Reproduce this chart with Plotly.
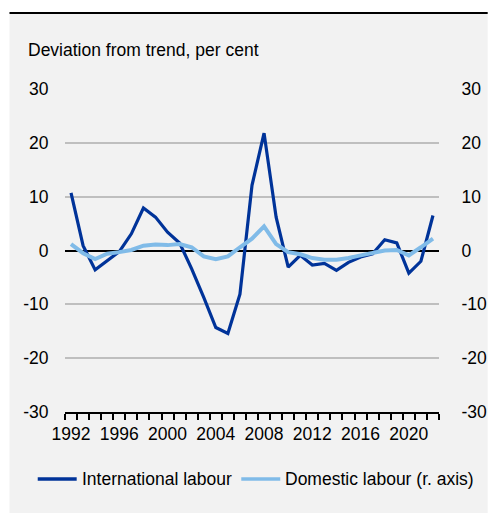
import plotly.graph_objects as go

years = list(range(1992, 2023))
international = [10.7, 0.9, -3.6, -1.9, -0.2, 3.1, 7.9, 6.2, 3.4, 1.4, -3.4, -8.7, -14.3, -15.4,
                 -8.1, 12.1, 21.8, 6.2, -3.1, -0.9, -2.7, -2.4, -3.7, -2.2, -1.2, -0.6, 2.0, 1.4,
                 -4.2, -2.0, 6.5]
domestic = [1.2, -0.5, -1.6, -0.6, -0.3, 0.1, 0.9, 1.1, 1.0, 1.2, 0.6, -1.1, -1.6, -1.1,
            0.6, 2.2, 4.5, 1.2, -0.3, -0.7, -1.4, -1.7, -1.7, -1.4, -0.9, -0.4, 0.0, 0.1,
            -0.9, 0.6, 2.2]
names = ["International labour", "Domestic labour (r. axis)"]
colors = ["#003399", "#80BBE8"]
y_ticks = [-30, -20, -10, 0, 10, 20, 30]
x_ticks = [1992, 1996, 2000, 2004, 2008, 2012, 2016, 2020]
title_text = "Deviation from trend, per cent"

FONT = "Liberation Sans, Arial, sans-serif"
FS = 17.5
W, H = 499, 515
L, R, T, B = 65, 50, 89, 103
pw, ph = W - L - R, H - T - B

def px(x):
    return (x - L) / pw

def py(y):
    return (H - B - y) / ph

fig = go.Figure()
fig.add_trace(go.Scatter(x=years, y=domestic, name=names[1], mode="lines",
                         line=dict(color=colors[1], width=4), yaxis="y2", showlegend=False))
fig.add_trace(go.Scatter(x=years, y=international, name=names[0], mode="lines",
                         line=dict(color=colors[0], width=3.2), showlegend=False))

shapes = [
    dict(type="rect", xref="paper", yref="paper", x0=px(8), x1=px(499), y0=py(513), y1=py(14),
         fillcolor="#F2F2F2", line=dict(width=0), layer="below"),
    dict(type="line", xref="paper", yref="paper", x0=px(8), x1=px(499), y0=py(13), y1=py(13),
         line=dict(color="black", width=2)),
]
annotations = [
    dict(text=title_text, xref="paper", yref="paper", x=px(25), y=py(50), xanchor="left",
         yanchor="middle", showarrow=False, font=dict(family=FONT, size=FS, color="black")),
]
# manual legend
leg_y = 479
leg_items = [(37, 77, 80), (246, 286, 289)]
for i, (x0, x1, tx) in enumerate(leg_items):
    shapes.append(dict(type="line", xref="paper", yref="paper", x0=px(x0), x1=px(x1),
                       y0=py(leg_y), y1=py(leg_y), line=dict(color=colors[i], width=3.5)))
    annotations.append(dict(text=names[i], xref="paper", yref="paper", x=px(tx), y=py(leg_y),
                            xanchor="left", yanchor="middle", showarrow=False,
                            font=dict(family=FONT, size=FS, color="black")))

fig.update_layout(
    width=W, height=H,
    margin=dict(l=L, r=R, t=T, b=B),
    paper_bgcolor="white",
    plot_bgcolor="rgba(0,0,0,0)",
    font=dict(family=FONT, size=FS, color="black"),
    showlegend=False,
    shapes=shapes,
    annotations=annotations,
    xaxis=dict(
        range=[1991.5, 2022.5], tickmode="array", tickvals=x_ticks, ticktext=[str(v) for v in x_ticks],
        showgrid=False, zeroline=False, showline=True, linecolor="black", linewidth=1.5,
        ticks="outside", ticklen=5, tickcolor="rgba(0,0,0,0)",
        minor=dict(tick0=1991.5, dtick=1, ticks="outside", ticklen=6, tickcolor="black", tickwidth=1.5,
                   showgrid=False),
        tickfont=dict(family=FONT, size=FS, color="black"),
    ),
    yaxis=dict(
        range=[-30, 30], tickmode="array", tickvals=y_ticks, ticktext=[str(v) for v in y_ticks],
        showgrid=True, gridcolor="#BFBFBF",
        gridwidth=1.5, zeroline=True, zerolinecolor="black", zerolinewidth=1.5,
        ticks="outside", ticklen=12, tickcolor="rgba(0,0,0,0)",
        tickfont=dict(family=FONT, size=FS, color="black"),
    ),
    yaxis2=dict(
        range=[-30, 30], tickmode="array", tickvals=y_ticks, ticktext=[str(v) for v in y_ticks],
        overlaying="y", side="right",
        showgrid=False, zeroline=False, ticks="outside", ticklen=18, tickcolor="rgba(0,0,0,0)",
        tickfont=dict(family=FONT, size=FS, color="black"),
    ),
)

fig.write_html("out.html", config={"displayModeBar": False},
               post_script="document.body.style.margin='0';document.body.style.overflow='hidden';")
